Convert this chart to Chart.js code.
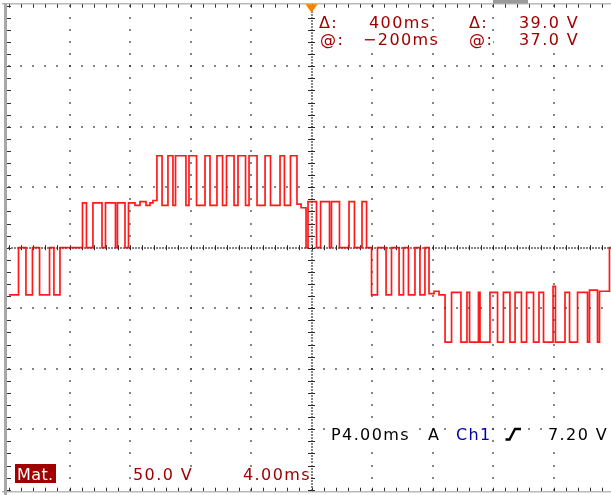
<!DOCTYPE html>
<html>
<head>
<meta charset="utf-8">
<script src="https://cdn.jsdelivr.net/npm/chart.js@4.4.1/dist/chart.umd.min.js"></script>
<style>
  html, body { margin: 0; padding: 0; overflow: hidden; background: #fff; width: 611px; height: 495px; }
  #wrap { position: relative; width: 620px; height: 495px; }
  canvas { position: absolute; left: 0; top: 0; }
  .t { position: absolute; font-family: "DejaVu Sans", sans-serif; font-size: 16px; line-height: 16px;
       letter-spacing: 1.4px; white-space: nowrap; color: #a00000; background: #fff; }
  .k { color: #000; }
  .b { color: #0000a8; }
  #mat { position: absolute; left: 15px; top: 464px; width: 41px; height: 19px; background: #a00000; }
  #mat span { position: absolute; left: 2px; top: 2.5px; color: #fff; background: none; letter-spacing: 0.4px; }
</style>
</head>
<body>
<div id="wrap">
  <canvas id="scope" width="620" height="495"></canvas>

  <div class="t" style="left:319px;top:14.8px">Δ:</div>
  <div class="t" style="left:369px;top:14.8px">400ms</div>
  <div class="t" style="left:469px;top:14.8px">Δ:</div>
  <div class="t" style="left:519px;top:14.8px">39.0 V</div>
  <div class="t" style="left:320px;top:32.2px">@:</div>
  <div class="t" style="left:363px;top:32.2px">−200ms</div>
  <div class="t" style="left:469px;top:32.2px">@:</div>
  <div class="t" style="left:519px;top:32.2px">37.0 V</div>

  <div class="t k" style="left:331px;top:426.5px">P4.00ms</div>
  <div class="t k" style="left:428px;top:426.5px">A</div>
  <div class="t b" style="left:456px;top:426.5px">Ch1</div>
  <svg style="position:absolute;left:504px;top:427px" width="18" height="15">
    <polyline points="1.5,12.5 5.5,12.5 11,2 17,2" fill="none" stroke="#000" stroke-width="2.4"/>
  </svg>
  <div class="t k" style="left:548px;top:426.5px">7.20 V</div>

  <div id="mat"><span class="t">Mat.</span></div>
  <div class="t" style="left:133px;top:466.5px">50.0 V</div>
  <div class="t" style="left:243px;top:466.5px">4.00ms</div>
</div>

<script>
// 4.00 ms/div, 10 div across; 50.0 V/div, 8 div high
const timeRange = [-20, 20];
const voltRange = [-200, 200];

// each level holds from its time until the next time
const timeMs = [
  -20.00, -19.37, -18.88, -18.45, -17.98, -17.32, -17.03, -16.63,
  -15.14, -14.88, -14.45, -13.85, -13.62, -12.96, -12.83, -12.33,
  -12.10, -11.67, -11.34, -10.94, -10.68, -10.48,
  -10.22, -9.88, -9.49, -9.16, -8.99, -8.30, -8.10, -7.60, -7.04, -6.71, -6.25, -5.88,
  -5.62, -5.12, -4.86, -4.36, -4.13, -3.60, -3.07, -2.71, -2.08, -1.79, -1.39, -0.96, -0.69,
  -0.36, -0.23, 0.33, 0.60, 1.19, 1.32, 1.85, 2.48, 2.84, 3.34, 3.64,
  3.97, 4.36, 4.93, 5.29, 5.79, 6.08, 6.41, 6.84, 7.17, 7.50,
  7.77, 8.10, 8.43,
  8.83, 9.26, 9.88, 10.28, 10.45, 11.04, 11.14, 11.80, 12.30, 12.69, 13.12, 13.46,
  13.88, 14.22, 14.68, 15.04, 15.34, 15.97, 16.13, 16.76, 17.06, 17.59, 18.25, 18.38, 18.91, 19.04,
  19.70, 20.00
];
const voltsV = [
  -39, 0, -39, 0, -39, 0, -39, 0,
  37, 0, 37, 0, 37, 0, 37, 0,
  37, 35, 38, 35, 37, 39,
  76, 35, 76, 35, 76, 35, 76, 35, 76, 35, 76, 35,
  76, 35, 76, 35, 76, 35, 76, 35, 76, 35, 76, 36, 33,
  0, 38, 0, 38, 0, 38, 0, 38, 0, 38, 0,
  -39, 0, -39, 0, -39, 0, -39, 0, -39, 0,
  -38, -36, -39,
  -78, -37, -78, -37, -78, -37, -78, -37, -78, -37, -78, -37,
  -78, -37, -78, -37, -78, -32, -78, -37, -78, -37, -78, -35, -78, -36,
  0, 0
];

const scopeGrid = {
  id: 'scopeGrid',
  beforeDatasetsDraw(chart) {
    const { ctx, chartArea: a } = chart;
    const dx = (a.right - a.left) / 10;
    const dy = (a.bottom - a.top) / 8;
    const cx = a.left + 5 * dx, cy = a.top + 4 * dy;
    const dot = (px, py) => ctx.fillRect(Math.round(px) - 0.75, Math.round(py) - 0.75, 1.5, 1.5);
    ctx.save();
    ctx.fillStyle = '#2a2a2a';

    // division lines, one dot per minor division
    for (let i = 1; i < 10; i++) {
      if (i === 5) continue;
      for (let j = 0; j <= 40; j++) dot(a.left + i * dx, a.top + j * dy / 5);
    }
    for (let j = 1; j < 8; j++) {
      if (j === 4) continue;
      for (let i = 0; i <= 50; i++) dot(a.left + i * dx / 5, a.top + j * dy);
    }

    // centre cross: dense dots plus minor ticks
    for (let j = 0; j <= 160; j++) dot(cx, a.top + j * dy / 20);
    for (let i = 0; i <= 200; i++) dot(a.left + i * dx / 20, cy);
    ctx.strokeStyle = '#2a2a2a';
    ctx.lineWidth = 1;
    ctx.beginPath();
    for (let j = 0; j <= 40; j++) {
      const py = Math.round(a.top + j * dy / 5) + 0.5;
      ctx.moveTo(cx - 3.5, py); ctx.lineTo(cx + 3.5, py);
    }
    for (let i = 0; i <= 50; i++) {
      const px = Math.round(a.left + i * dx / 5) + 0.5;
      ctx.moveTo(px, cy - 2.5); ctx.lineTo(px, cy + 2.5);
    }
    ctx.stroke();

    // frame with edge ticks
    ctx.fillStyle = '#a8a8a8';
    ctx.fillRect(a.left - 5, 3, 3, 492);
    ctx.fillRect(2, a.top - 2.5, 620, 1.2);
    ctx.fillRect(2, a.bottom + 1.5, 620, 1.2);
    ctx.fillStyle = '#9a9a9a';
    ctx.fillRect(493, 0, 35, 3.5);
    ctx.beginPath();
    for (let i = 0; i <= 50; i++) {
      const px = Math.round(a.left + i * dx / 5) + 0.5;
      ctx.moveTo(px, a.top - 1.5); ctx.lineTo(px, a.top + 2);
      ctx.moveTo(px, a.bottom - 2); ctx.lineTo(px, a.bottom + 1.5);
    }
    for (let j = 0; j <= 40; j++) {
      const py = Math.round(a.top + j * dy / 5) + 0.5;
      ctx.moveTo(a.left - 2, py); ctx.lineTo(a.left + 2, py);
    }
    ctx.strokeStyle = '#333';
    ctx.stroke();
    ctx.restore();
  },
  afterDatasetsDraw(chart) {
    const { ctx, chartArea: a } = chart;
    const cx = (a.left + a.right) / 2;
    ctx.save();
    ctx.fillStyle = '#ff8000';
    ctx.beginPath();
    ctx.moveTo(cx - 6, a.top - 1.5);
    ctx.lineTo(cx + 6, a.top - 1.5);
    ctx.lineTo(cx, a.top + 7);
    ctx.closePath();
    ctx.fill();
    ctx.restore();
  }
};

new Chart(document.getElementById('scope'), {
  type: 'line',
  data: {
    datasets: [{
      data: timeMs.map((t, i) => ({ x: t, y: voltsV[i] })),
      stepped: true,
      borderColor: 'rgba(255,0,0,0.9)',
      borderWidth: 1.7,
      pointRadius: 0,
      fill: false
    }]
  },
  options: {
    responsive: false,
    animation: false,
    layout: { padding: { left: 9, right: 6, top: 5.7, bottom: 5.3 } },
    plugins: { legend: { display: false }, tooltip: { enabled: false } },
    scales: {
      x: { type: 'linear', min: timeRange[0], max: timeRange[1], display: false },
      y: { min: voltRange[0], max: voltRange[1], display: false }
    }
  },
  plugins: [scopeGrid]
});
</script>
</body>
</html>
